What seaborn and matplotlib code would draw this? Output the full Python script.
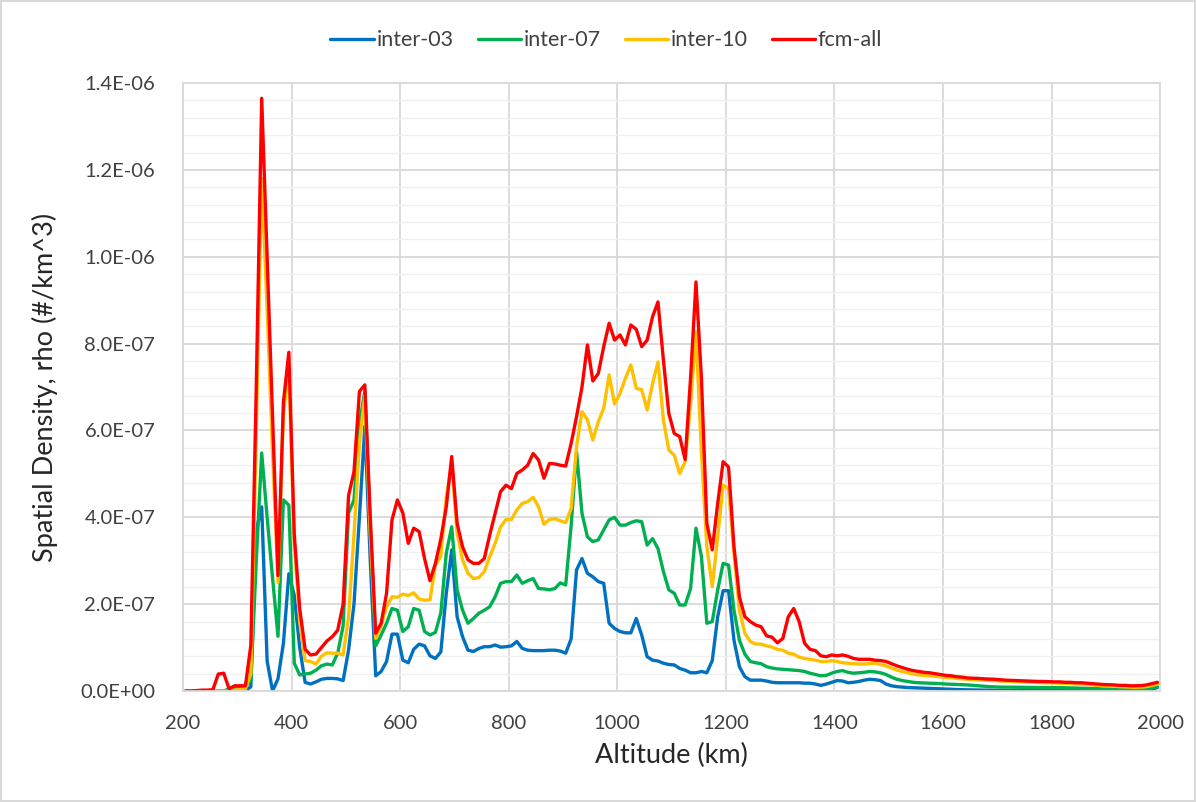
import numpy as np
import pandas as pd
import matplotlib
matplotlib.use("Agg")
import matplotlib.pyplot as plt
from matplotlib.ticker import MultipleLocator, FuncFormatter
import seaborn as sns

# altitude bin centres, km (10 km bins from 200 to 2000)
altitude = np.arange(205, 2000, 10)

# spatial density in units of 1E-08 #/km^3, rows of 10 bins (205-295, 305-395, ...)
inter_03 = [
    0, 0, 0, 0, 0, 0, 0, 0, 0, 0,
    0, 0, 1, 37, 42.4, 6.9, 0, 2.8, 11, 27,
    22, 10, 2, 1.6, 2.1, 2.7, 2.9, 2.9, 2.8, 2.4,
    9.4, 20, 40, 61, 30, 3.5, 4.5, 6.8, 13.1, 13.1,
    7.1, 6.5, 9.6, 10.8, 10.4, 8.1, 7.5, 9, 22.5, 32.5,
    17.1, 12.5, 9.4, 9.1, 9.8, 10.2, 10.2, 10.6, 10.1, 10.2,
    10.4, 11.4, 9.8, 9.4, 9.3, 9.3, 9.3, 9.4, 9.4, 9.2,
    8.7, 12, 27.9, 30.5, 27.1, 26.3, 25.2, 24.8, 15.6, 14.4,
    13.7, 13.4, 13.4, 16.7, 12.9, 7.9, 7.1, 6.9, 6.4, 6.1,
    6.0, 5.2, 4.8, 4.2, 4.2, 4.5, 4.2, 7, 17.1, 23.1,
    23.1, 11.7, 5.6, 3.3, 2.5, 2.5, 2.5, 2.3, 2.0, 1.9,
    1.9, 1.9, 1.9, 1.9, 1.8, 1.8, 1.6, 1.3, 1.6, 2.0,
    2.4, 2.3, 1.9, 2.0, 2.2, 2.5, 2.7, 2.6, 2.4, 1.6,
    1.2, 1.0, 0.9, 0.8, 0.75, 0.7, 0.65, 0.6, 0.55, 0.5,
    0.45, 0.4, 0.35, 0.3, 0.28, 0.25, 0.22, 0.2, 0.18, 0.15,
    0.15, 0.14, 0.13, 0.12, 0.12, 0.11, 0.1, 0.1, 0.1, 0.1,
    0.1, 0.1, 0.1, 0.1, 0.1, 0.1, 0.1, 0.1, 0.1, 0.1,
    0.1, 0.1, 0.1, 0.1, 0.1, 0.1, 0.15, 0.25, 0.45, 0.8,
]
inter_07 = [
    0, 0, 0, 0, 0, 0, 0, 0, 0.5, 0.9,
    1.0, 1.0, 2.5, 30, 54.8, 40, 26, 12.6, 44, 42.8,
    6.4, 3.7, 3.9, 4.1, 4.8, 5.8, 6.2, 6.0, 8.7, 15,
    41, 44, 61.6, 69, 38, 10.4, 12.9, 15.6, 19, 18.6,
    13.7, 14.8, 19, 18.6, 13.7, 12.9, 13.5, 18, 31.7, 37.8,
    23.3, 18.6, 15.6, 16.7, 17.9, 18.6, 19.4, 21.7, 24.8, 25.2,
    25.2, 26.7, 24.8, 25.4, 25.9, 23.6, 23.5, 23.3, 23.6, 24.9,
    24.4, 38, 55.1, 40.9, 35.5, 34.4, 34.8, 37.1, 39.4, 40,
    38.2, 38.2, 38.8, 39.2, 39, 33.6, 35.1, 32.8, 27.5, 23.3,
    22.5, 19.8, 19.8, 23.6, 37.5, 31, 15.6, 16, 23.3, 29.4,
    29, 18.6, 11.7, 8.5, 6.8, 6.5, 6.3, 5.6, 5.3, 5.1,
    5.0, 4.9, 4.8, 4.7, 4.5, 4.1, 3.8, 3.5, 3.6, 4.1,
    4.5, 4.7, 4.3, 4.1, 4.2, 4.3, 4.5, 4.4, 4.2, 3.8,
    3.2, 2.7, 2.4, 2.2, 2.0, 1.9, 1.85, 1.8, 1.75, 1.7,
    1.6, 1.55, 1.5, 1.45, 1.4, 1.3, 1.2, 1.1, 1.0, 0.95,
    0.9, 0.9, 0.88, 0.86, 0.85, 0.84, 0.82, 0.8, 0.8, 0.8,
    0.8, 0.78, 0.75, 0.72, 0.7, 0.68, 0.65, 0.6, 0.55, 0.5,
    0.45, 0.4, 0.38, 0.35, 0.3, 0.3, 0.35, 0.45, 0.7, 1.0,
]
inter_10 = [
    0, 0, 0, 0, 0, 0, 0, 0, 0, 0.2,
    0.3, 0.5, 4, 60, 118, 88, 55, 25, 64, 74,
    34, 16, 7, 6.8, 6.2, 8, 8.8, 8.7, 8.7, 8.3,
    17, 36, 57, 68, 36, 12.1, 15, 19.4, 21.7, 21.6,
    22.3, 22, 22.6, 21.2, 20.9, 21, 29, 31, 44.7, 52.4,
    36.3, 30.2, 27.1, 25.9, 26.1, 27.5, 30.9, 34, 37.8, 39.5,
    39.5, 41.7, 43.2, 43.6, 44.6, 42.4, 38.4, 39.5, 39.7, 39.2,
    38.8, 42, 56.3, 64.3, 62.5, 57.8, 62, 65.1, 72.8, 66.1,
    68.5, 72, 75.1, 69.7, 69.4, 64.7, 70.8, 75.8, 62.4, 55.5,
    54.3, 50.1, 52.8, 66, 82.7, 55, 33.2, 24, 35.5, 47.4,
    46.6, 31.7, 18.6, 13.3, 11.4, 10.8, 10.8, 10.4, 10.1, 9.6,
    9.4, 8.7, 8.5, 7.8, 7.5, 7.3, 7.1, 6.8, 6.8, 7.0,
    6.8, 6.5, 6.4, 6.3, 6.2, 6.2, 6.3, 6.4, 6.1, 5.8,
    5.3, 4.8, 4.5, 4.2, 3.9, 3.7, 3.6, 3.5, 3.4, 3.3,
    3.1, 3.0, 2.9, 2.8, 2.7, 2.6, 2.55, 2.5, 2.45, 2.4,
    2.3, 2.25, 2.2, 2.15, 2.1, 2.05, 2.0, 1.95, 1.9, 1.9,
    1.85, 1.8, 1.75, 1.7, 1.6, 1.55, 1.5, 1.4, 1.3, 1.2,
    1.15, 1.1, 1.0, 0.95, 0.9, 0.85, 0.9, 1.0, 1.3, 1.6,
]
fcm_all = [
    0, 0, 0.1, 0.2, 0.2, 0.3, 3.9, 4.1, 0.5, 1.2,
    1.2, 1.2, 10.5, 70, 136.5, 100, 63, 26.6, 66.5, 78,
    36, 19, 9.6, 8.3, 8.5, 10, 11.5, 12.5, 14, 20,
    45, 50.5, 69, 70.5, 40, 13.3, 15.6, 22.5, 39.4, 44,
    41, 34, 37.5, 36.7, 30.5, 25.4, 29.4, 35, 42.4, 54,
    38.6, 33.2, 30.2, 29.4, 29.4, 30.5, 35.9, 40.9, 45.9, 47.4,
    46.6, 50.1, 50.9, 52, 54.7, 53.2, 49, 52.4, 52.3, 52,
    51.8, 57, 63.2, 70, 79.7, 71.4, 73.1, 79.3, 84.7, 80.8,
    82, 79.7, 84.3, 83.3, 79.3, 80.8, 86.2, 89.6, 76.2, 63.9,
    59.3, 58.6, 53.3, 72, 94.2, 72, 38.6, 32.5, 43.2, 52.8,
    51.6, 33.2, 21.7, 17.1, 16, 15.2, 14.8, 12.7, 12.4, 11.1,
    12.1, 17.1, 19, 16, 11, 9.6, 9.3, 8.1, 7.9, 8.3,
    8.1, 8.3, 8.0, 7.5, 7.3, 7.3, 7.3, 7.1, 7.0, 6.8,
    6.3, 5.8, 5.4, 5.0, 4.7, 4.5, 4.3, 4.2, 4.0, 3.8,
    3.6, 3.5, 3.3, 3.2, 3.0, 2.95, 2.9, 2.8, 2.75, 2.7,
    2.6, 2.5, 2.45, 2.4, 2.35, 2.3, 2.25, 2.2, 2.2, 2.15,
    2.1, 2.1, 2.0, 2.0, 1.9, 1.9, 1.8, 1.7, 1.6, 1.5,
    1.45, 1.4, 1.3, 1.3, 1.2, 1.2, 1.25, 1.4, 1.7, 2.0,
]

series_names = ["inter-03", "inter-07", "inter-10", "fcm-all"]
series_colors = ["#0070C0", "#00B050", "#FFC000", "#FF0000"]
unit = 1e-8

frames = []
for name, vals in zip(series_names, [inter_03, inter_07, inter_10, fcm_all]):
    frames.append(pd.DataFrame({"altitude": altitude,
                                "rho": np.array(vals) * unit,
                                "series": name}))
df = pd.concat(frames, ignore_index=True)

sns.set_theme(style="white")
plt.rcParams["font.family"] = ["Lato", "DejaVu Sans"]

fig = plt.figure(figsize=(11.96, 8.02), dpi=100)
ax = fig.add_axes([0.153, 0.1384, 0.817, 0.758])

sns.lineplot(data=df, x="altitude", y="rho", hue="series",
             hue_order=series_names, palette=series_colors,
             estimator=None, linewidth=2.4, legend=False, ax=ax)

ax.set_xlim(200, 2000)
ax.set_ylim(0, 1.4e-6)
ax.xaxis.set_major_locator(MultipleLocator(200))
ax.yaxis.set_major_locator(MultipleLocator(2e-7))
ax.yaxis.set_minor_locator(MultipleLocator(4e-8))
ax.yaxis.set_major_formatter(FuncFormatter(lambda v, p: f"{v:.1E}"))

ax.grid(which="major", color="#d9d9d9", linewidth=1.3)
ax.grid(which="minor", axis="y", color="#f0f0f0", linewidth=1.0)
ax.set_axisbelow(True)
for sp in ax.spines.values():
    sp.set_color("#d9d9d9")
    sp.set_linewidth(1.3)

ax.tick_params(which="both", length=0, labelsize=14.5, colors="#404040")
ax.tick_params(axis="y", pad=20)
ax.tick_params(axis="x", pad=17)

ax.set_xlabel("Altitude (km)", fontsize=19.5, color="#262626", labelpad=8)
ax.set_ylabel("Spatial Density, rho (#/km^3)", fontsize=19.5, color="#262626", labelpad=16)

handles = ax.get_lines()[:4]
fig.legend(handles, series_names, loc="center", bbox_to_anchor=(0.507, 0.95),
           ncol=4, frameon=False, fontsize=15.5, handlelength=2.0,
           handletextpad=0.15, columnspacing=1.1, labelcolor="#404040")

fig.patch.set_linewidth(1.5)
fig.savefig("out.png", dpi=100, facecolor="white", edgecolor="#d9d9d9")
